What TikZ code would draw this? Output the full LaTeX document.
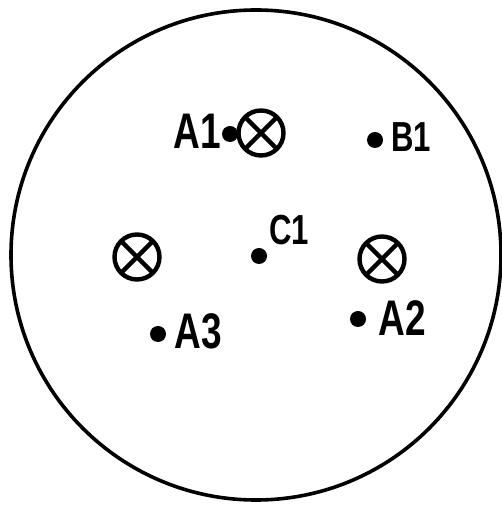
\documentclass[tikz,border=0pt]{standalone}
\usepackage{fontspec}
\setmainfont{Liberation Sans}[FakeStretch=0.74]
\usetikzlibrary{positioning}

\begin{document}
\begin{tikzpicture}[x=1pt,y=1pt,
    pt/.style={circle,fill,inner sep=0pt,minimum size=16pt},
    wire/.style={circle,draw,line width=4.4pt,inner sep=0pt,minimum size=45pt,
      path picture={\draw[line width=4.4pt]
        (path picture bounding box.north west)--(path picture bounding box.south east)
        (path picture bounding box.north east)--(path picture bounding box.south west);}},
    lbl/.style={font=\fontsize{50}{54}\selectfont\bfseries,inner sep=0pt},
    smalllbl/.style={font=\fontsize{42}{46}\selectfont\bfseries,inner sep=0pt}]
  \useasboundingbox (0,0) rectangle (501,505);
  \draw[line width=3.6pt] (256,250) circle (245);
  % conductors, current into the page
  \node[wire] (w1) at (261,372) {};
  \node[wire] (w2) at (382,246) {};
  \node[wire] (w3) at (137,248) {};
  % points
  \node[pt] (a1) at (230,371) {};
  \node[pt] (b1) at (375,365) {};
  \node[pt] (c1) at (259,249) {};
  \node[pt] (a2) at (358,186) {};
  \node[pt] (a3) at (158,171) {};
  \node[lbl] (a1l) at (197,374) {A1};
  \node[smalllbl] (b1l) at (411,368) {B1};
  \node[smalllbl] (c1l) at (289,275) {C1};
  \node[lbl] (a2l) at (402,187) {A2};
  \node[lbl] (a3l) at (198,174) {A3};
\end{tikzpicture}
\end{document}
